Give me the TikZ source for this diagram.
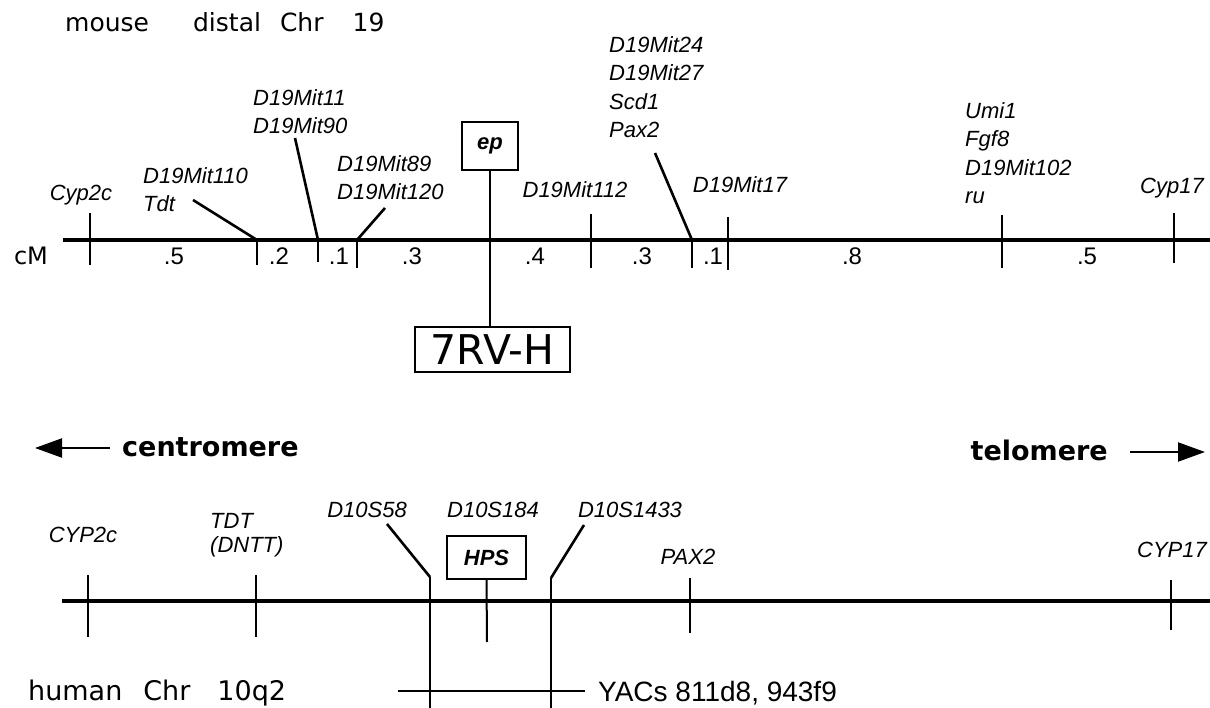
\documentclass[tikz,border=0pt]{standalone}
\usepackage{fontspec}
\setmainfont{Liberation Sans}
\newfontfamily\dvsans{DejaVu Sans}
\usetikzlibrary{arrows.meta}
\begin{document}
\begin{tikzpicture}[x=1pt,y=-1pt,
  chrom/.style={line width=4pt},
  tk/.style={line width=2pt},
  lead/.style={line width=2.6pt},
  lbl/.style={inner sep=0pt, font=\fontsize{22}{28.5}\selectfont\itshape},
  mlbl/.style={lbl, align=left, anchor=north west},
  num/.style={inner sep=0pt, anchor=base, font=\fontsize{24}{24}\selectfont},
  ttl/.style={inner sep=0pt, anchor=base west},
  genebox/.style={draw, line width=2.4pt, inner sep=0pt, font=\fontsize{22}{22}\selectfont\bfseries\itshape},
  dirtext/.style={inner sep=0pt, anchor=base, font=\dvsans\bfseries\fontsize{27}{27}\selectfont},
  dirarrow/.style={line width=2pt, -{Triangle[length=27pt,width=19pt]}},
]
\useasboundingbox (0,0) rectangle (1210,708);

% ---------------- mouse chromosome ----------------
\node[ttl, font=\dvsans\fontsize{25}{25}\selectfont] (mtitle) at (65,32)
  {mouse\hspace{44pt}distal\hspace{19pt}Chr\hspace{29pt}19};

\coordinate (mL) at (63,240);
\coordinate (mR) at (1210,240);
\draw[chrom] (mL) -- (mR);

% full ticks
\foreach \n/\x/\a/\b in {mcyp2c/90/213/265, mmit112/591/214/268, mmit17/728/217/270,
                         mumi1/1002/215/268, mcyp17/1174/213/263}{
  \coordinate (\n-t) at (\x,\a);
  \coordinate (\n-b) at (\x,\b);
  \draw[tk] (\n-t) -- (\n-b);
}
% ticks with leaders
\foreach \n/\x/\b/\lx/\ly in {mmit110/257/265/193/200, mmit11/318/262/295/138,
                              mmit89/357/268/385/208, mmit24/692/268/655/153}{
  \coordinate (\n-j) at (\x,240);
  \coordinate (\n-b) at (\x,\b);
  \coordinate (\n-l) at (\lx,\ly);
  \draw[tk] (\n-j) -- (\n-b);
  \draw[lead] (\n-l) -- (\n-j);
}

% labels
\node[lbl, anchor=base] (cyp2c) at (81,201) {Cyp2c};
\node[mlbl] (mit110) at (143,167) {D19Mit110\\Tdt};
\node[mlbl] (mit11) at (253,89) {D19Mit11\\D19Mit90};
\node[mlbl] (mit89) at (337,155) {D19Mit89\\D19Mit120};
\node[lbl, anchor=base] (mit112) at (575,198) {D19Mit112};
\node[mlbl] (mit24) at (609,36) {D19Mit24\\D19Mit27\\Scd1\\Pax2};
\node[lbl, anchor=base] (mit17) at (740,193) {D19Mit17};
\node[mlbl] (umi1) at (965,102) {Umi1\\Fgf8\\D19Mit102\\ru};
\node[lbl, anchor=base] (cyp17) at (1172,194) {Cyp17};

% ep and 7RV-H
\node[genebox, minimum width=56pt, minimum height=48pt] (ep) at (490,146) {ep};
\node[draw, line width=2pt, inner sep=0pt, minimum width=155pt, minimum height=45pt,
      font=\dvsans\fontsize{41}{41}\selectfont] (rv) at (492.5,349.5) {7RV-H};
\draw[tk] (ep.south) -- (ep.south |- rv.north);

% distances
\node[num, font=\dvsans\fontsize{24}{24}\selectfont] (cm) at (31,265) {cM};
\foreach \n/\x/\t in {d1/174/.5, d2/279/.2, d3/339/.1, d4/412/.3, d5/535/.4,
                      d6/642/.3, d7/713/.1, d8/852/.8, d9/1087/.5}{
  \node[num] (\n) at (\x,265) {\t};
}

% ---------------- direction ----------------
\node[dirtext, anchor=base west] (centro) at (122,456) {centromere};
\coordinate (centroTip) at (35,448);
\draw[dirarrow] ([xshift=-12pt]centro.west |- centroTip) -- (centroTip);
\node[dirtext, anchor=base east] (telo) at (1108,460) {telomere};
\coordinate (teloTip) at (1205,452);
\draw[dirarrow] ([xshift=22pt]telo.east |- teloTip) -- (teloTip);

% ---------------- human chromosome ----------------
\coordinate (hL) at (62,601);
\coordinate (hR) at (1210,601);
\draw[chrom] (hL) -- (hR);

\foreach \n/\x/\a/\b in {hcyp2c/88/575/637, htdt/256/575/637, hpax2/690/578/633,
                         hcyp17/1171/580/630}{
  \coordinate (\n-t) at (\x,\a);
  \coordinate (\n-b) at (\x,\b);
  \draw[tk] (\n-t) -- (\n-b);
}
\foreach \n/\x/\j/\lx/\ly in {hd58/430/577/387/524, hd1433/551/578/584/525}{
  \coordinate (\n-j) at (\x,\j);
  \coordinate (\n-b) at (\x,708);
  \coordinate (\n-l) at (\lx,\ly);
  \draw[tk] (\n-j) -- (\n-b);
  \draw[lead] (\n-l) -- (\n-j);
}

\node[lbl, anchor=base] (hcyp2c) at (83,542) {CYP2c};
\node[mlbl, font=\fontsize{22}{24}\selectfont\itshape] (tdt) at (210,513) {TDT\\(DNTT)};
\node[lbl, anchor=base] (d58) at (367,517) {D10S58};
\node[lbl, anchor=base] (d184) at (493,517) {D10S184};
\node[lbl, anchor=base] (d1433) at (630,517) {D10S1433};
\node[lbl, anchor=base] (pax2) at (688,564) {PAX2};
\node[lbl, anchor=base] (hcyp17) at (1172,557) {CYP17};

\node[genebox, minimum width=79pt, minimum height=43pt] (hps) at (486.5,557.5) {HPS};
\coordinate (hpsEnd) at (487,642);
\draw[tk] (hps.south) -- (hpsEnd);

% YACs
\node[ttl, font=\fontsize{28}{28}\selectfont] (yac) at (598,701) {YACs 811d8, 943f9};
\coordinate (yacL) at (398,691);
\coordinate (yacR) at (585,691);
\draw[tk] (yacL) -- (yacR);
\node[ttl, font=\dvsans\fontsize{27}{27}\selectfont] (htitle) at (28,700)
  {human\hspace{21pt}Chr\hspace{27pt}10q2};
\end{tikzpicture}
\end{document}
